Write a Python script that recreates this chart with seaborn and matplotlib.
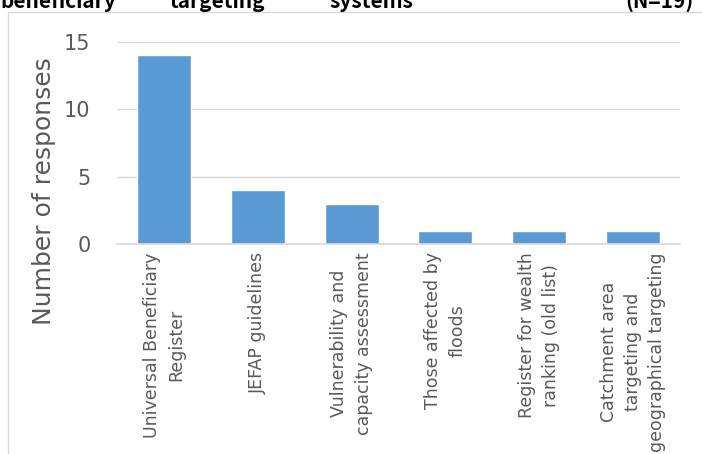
import matplotlib
matplotlib.use("Agg")
import matplotlib.pyplot as plt
import seaborn as sns
import pandas as pd
from matplotlib.patches import Rectangle

categories = ["Universal Beneficiary\nRegister", "JEFAP guidelines",
              "Vulnerability and\ncapacity assessment", "Those affected by\nfloods",
              "Register for wealth\nranking (old list)",
              "Catchment area\ntargeting and\ngeographical targeting"]
responses = [14, 4, 3, 1, 1, 1]
y_ticks = [0, 5, 10, 15]
title_words = ["beneficiary", "targeting", "systems", "(N=19)"]

sns.set_theme(style="white")
plt.rcParams['font.family'] = ['DejaVu Sans']

fig = plt.figure(figsize=(7.02, 4.54), dpi=100)
W, H = 702, 454

# chart area border
fig.patches.append(Rectangle((8 / W, -0.05), 1.0, 1 - 12 / H + 0.05,
                             transform=fig.transFigure, fill=False,
                             edgecolor="#D9D9D9", linewidth=1.0))

# cut-off title words
for word, x in zip(title_words, [0, 170, 330, 625]):
    fig.text(x / W, 1 - 1 / H, word, ha="left", va="center", fontsize=15,
             fontweight="bold", color="black", family=["Noto Sans CJK JP"])

ax = fig.add_axes([117 / W, 1 - 244 / H, 563 / W, 202 / H])
df = pd.DataFrame({"cat": categories, "val": responses})
sns.barplot(data=df, x="cat", y="val", color="#5B9BD5", saturation=1,
            width=0.575, ax=ax)
ax.set_ylim(0, 15)
ax.set_yticks(y_ticks)
ax.yaxis.grid(True, color="#D9D9D9", linewidth=1)
ax.set_axisbelow(True)
for s in ["top", "right", "left"]:
    ax.spines[s].set_visible(False)
ax.spines["bottom"].set_color("#D9D9D9")
ax.tick_params(axis="y", labelsize=15, labelcolor="#595959", length=0, pad=19)
ax.tick_params(axis="x", length=0, pad=6)
ax.set_xticks(range(len(categories)))
ax.set_xticklabels(categories, rotation=90, fontsize=12.5, color="#595959",
                   ha="center", va="top", multialignment="center",
                   linespacing=1.45)
ax.set_xlabel("")
ax.set_ylabel("Number of responses", fontsize=18, color="#595959")
ax.yaxis.set_label_coords(-0.108, 0.26)

fig.savefig("out.png", dpi=100)
